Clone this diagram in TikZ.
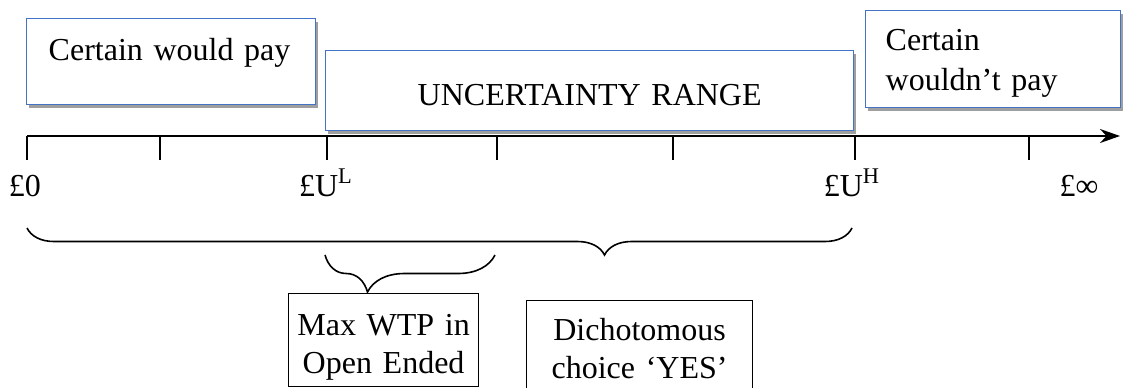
\documentclass[tikz,border=0pt]{standalone}
\usepackage{fontspec}
\setmainfont{Liberation Serif}
\usetikzlibrary{shadows,decorations.pathreplacing,arrows.meta}
\definecolor{boxblue}{RGB}{68,114,196}

\begin{document}
\begin{tikzpicture}[x=0.5pt,y=-0.5pt,font=\fontsize{16}{19}\selectfont,
  bluebox/.style={draw=boxblue,line width=0.7pt,fill=white,anchor=north west,inner ysep=0pt,
    drop shadow={shadow xshift=1pt,shadow yshift=-1.6pt,fill=gray!75,opacity=1}},
  blackbox/.style={draw,line width=0.6pt,anchor=north west,inner sep=0pt,align=center},
  axistick/.style={line width=0.7pt},
  wtpbrace/.style={decorate,line width=0.8pt,decoration={brace,mirror,amplitude=#1}}]
\useasboundingbox (0,0) rectangle (1123,387);
\node [bluebox,inner xsep=11pt,text width=122.5pt,align=left,text height=21pt,text depth=22pt] (wouldpay) at (26,18) {Certain would pay};
\node [bluebox,inner xsep=0pt,text width=264pt,align=center,text height=27.5pt,text depth=12.5pt] (uncertain) at (325,50) {UNCERTAINTY RANGE};
\node [bluebox,inner xsep=10pt,text width=107.5pt,align=left,text height=20pt,text depth=28.5pt,font=\fontsize{16}{20}\selectfont] (wouldnt) at (865,10) {Certain\\wouldn’t pay};
\coordinate (t0) at (27,136);
\coordinate (t1) at (160,136);
\coordinate (t2) at (327,136);
\coordinate (t3) at (497,136);
\coordinate (t4) at (673,136);
\coordinate (t5) at (855,136);
\coordinate (t6) at (1029,136);
\coordinate (tend) at (1120,136);
\draw [line width=1pt,-{Stealth[length=10pt,width=7pt]}] (t0) -- (tend);
\draw [axistick] (t0) -- ++(0,24);
\draw [axistick] (t1) -- ++(0,24);
\draw [axistick] (t2) -- ++(0,24);
\draw [axistick] (t3) -- ++(0,24);
\draw [axistick] (t4) -- ++(0,24);
\draw [axistick] (t5) -- ++(0,24);
\draw [axistick] (t6) -- ++(0,24);
\node [anchor=base] (lzero) at (25,196) {£0};
\node [anchor=base] (lul) at (326,196) {£U\textsuperscript{L}};
\node [anchor=base] (luh) at (852,196) {£U\textsuperscript{H}};
\node [anchor=base] (linf) at (1079,196) {£∞};
\coordinate (bigl) at (27,228);
\coordinate (bigr) at (852,228);
\coordinate (smalll) at (325,255);
\coordinate (smallr) at (495,255);
\draw [wtpbrace=13.5pt,decoration={aspect=0.7}] (bigl) -- (bigr);
\draw [wtpbrace=18.5pt,decoration={aspect=0.25}] (smalll) -- (smallr);
\node [blackbox,text width=95pt,text height=21pt,text depth=25.5pt] (openended) at (288,293) {Max WTP in\\Open Ended};
\node [blackbox,text width=113pt,text height=20pt,text depth=26pt] (dichot) at (526,300) {Dichotomous\\choice ‘YES’};
\end{tikzpicture}
\end{document}
